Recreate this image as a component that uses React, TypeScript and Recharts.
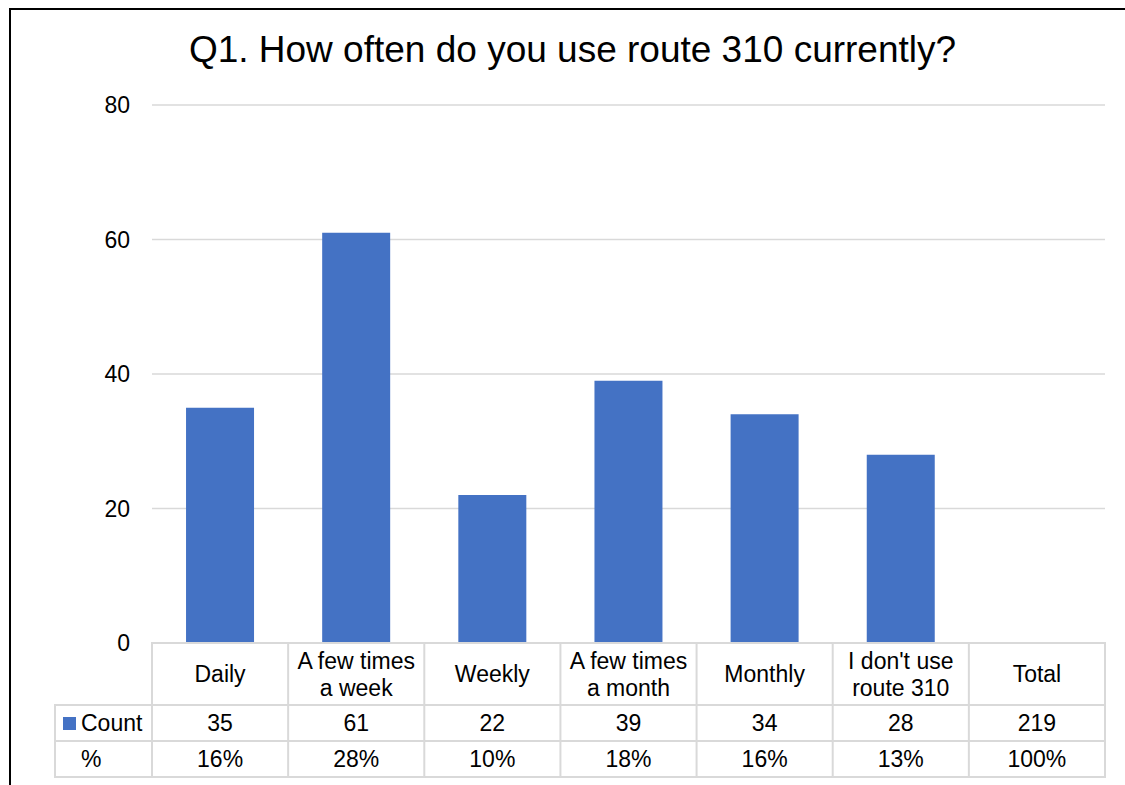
import { BarChart, Bar, XAxis, YAxis, CartesianGrid } from 'recharts';

const CATEGORIES = [
  'Daily',
  'A few times a week',
  'Weekly',
  'A few times a month',
  'Monthly',
  "I don't use route 310",
  'Total',
];
const COUNTS = [35, 61, 22, 39, 34, 28, 219];
const PERCENTS = ['16%', '28%', '10%', '18%', '16%', '13%', '100%'];
const Y_TICKS = [0, 20, 40, 60, 80];

const TITLE = 'Q1. How often do you use route 310 currently?';
const SERIES_NAME = 'Count';

// layout (page pixels)
const W = 1125;
const H = 785;
const PLOT_LEFT = 152;
const PLOT_RIGHT = 1105;
const PLOT_TOP = 105;
const PLOT_BOTTOM = 643;
const ROW_COUNT = 705;
const ROW_PCT = 741;
const ROW_END = 777;
const LEGEND_LEFT = 55;
const CELL_W = (PLOT_RIGHT - PLOT_LEFT) / CATEGORIES.length;

const BLUE = '#4472C4';
const LINE = '#d9d9d9';
const FONT = '"Liberation Sans", Arial, sans-serif';
const FS = 23;

// the Total column gets no bar, only table values
const chartData = CATEGORIES.map((name, i) => ({
  name,
  count: name === 'Total' ? null : COUNTS[i],
}));

function wrap(label: string, max = 11): string[] {
  const out: string[] = [];
  let cur = '';
  for (const w of label.split(' ')) {
    const next = cur ? cur + ' ' + w : w;
    if (next.length > max && cur) {
      out.push(cur);
      cur = w;
    } else {
      cur = next;
    }
  }
  if (cur) out.push(cur);
  return out;
}

const lineProps = { stroke: LINE, strokeWidth: 2, strokeLinecap: 'square' as const };

function TableColumn(props: any) {
  const { x, payload, index } = props;
  const left = x - CELL_W / 2;
  const right = x + CELL_W / 2;
  const lines = wrap(String(payload.value));
  const headMid = (PLOT_BOTTOM + ROW_COUNT) / 2;
  const lh = 27;
  const textProps = {
    fontFamily: FONT,
    fontSize: FS,
    fill: '#000',
    textAnchor: 'middle' as const,
    dominantBaseline: 'central' as const,
  };
  return (
    <g>
      <line x1={left} x2={right} y1={PLOT_BOTTOM} y2={PLOT_BOTTOM} {...lineProps} />
      <line x1={left} x2={right} y1={ROW_COUNT} y2={ROW_COUNT} {...lineProps} />
      <line x1={left} x2={right} y1={ROW_PCT} y2={ROW_PCT} {...lineProps} />
      <line x1={left} x2={right} y1={ROW_END} y2={ROW_END} {...lineProps} />
      <line x1={left} x2={left} y1={PLOT_BOTTOM} y2={ROW_END} {...lineProps} />
      {index === CATEGORIES.length - 1 && (
        <line x1={right} x2={right} y1={PLOT_BOTTOM} y2={ROW_END} {...lineProps} />
      )}
      {index === 0 && (
        <g>
          <line x1={LEGEND_LEFT} x2={left} y1={ROW_COUNT} y2={ROW_COUNT} {...lineProps} />
          <line x1={LEGEND_LEFT} x2={left} y1={ROW_PCT} y2={ROW_PCT} {...lineProps} />
          <line x1={LEGEND_LEFT} x2={left} y1={ROW_END} y2={ROW_END} {...lineProps} />
          <line x1={LEGEND_LEFT} x2={LEGEND_LEFT} y1={ROW_COUNT} y2={ROW_END} {...lineProps} />
          <rect x={63} y={717} width={13} height={13} fill={BLUE} />
          <text {...textProps} x={81} y={(ROW_COUNT + ROW_PCT) / 2} textAnchor="start">
            {SERIES_NAME}
          </text>
          <text {...textProps} x={81} y={(ROW_PCT + ROW_END) / 2} textAnchor="start">
            %
          </text>
        </g>
      )}
      {lines.map((t, i) => (
        <text key={i} {...textProps} x={x} y={headMid + (i - (lines.length - 1) / 2) * lh}>
          {t}
        </text>
      ))}
      <text {...textProps} x={x} y={(ROW_COUNT + ROW_PCT) / 2}>
        {COUNTS[index]}
      </text>
      <text {...textProps} x={x} y={(ROW_PCT + ROW_END) / 2}>
        {PERCENTS[index]}
      </text>
    </g>
  );
}

export default function App() {
  return (
    <div
      style={{
        position: 'fixed',
        left: 0,
        top: 0,
        width: W,
        height: H,
        background: '#fff',
        overflow: 'hidden',
      }}
    >
      {/* outer frame: only top and left edges fall inside the view */}
      <svg
        width={W}
        height={H}
        style={{ position: 'absolute', left: 0, top: 0 }}
      >
        <path d={`M10,${H} V9 H${W}`} fill="none" stroke="#000" strokeWidth={2} />
      </svg>
      <div
        style={{
          position: 'absolute',
          left: 0,
          width: 1145,
          top: 29,
          textAlign: 'center',
          fontFamily: FONT,
          fontSize: 37,
          color: '#000',
          whiteSpace: 'nowrap',
        }}
      >
        {TITLE}
      </div>
      <div style={{ position: 'absolute', left: 0, top: 0 }}>
        <BarChart
          width={W}
          height={H}
          data={chartData}
          margin={{ top: PLOT_TOP, right: W - PLOT_RIGHT, bottom: 0, left: 0 }}
          barCategoryGap="25%"
        >
          <CartesianGrid vertical={false} stroke={LINE} strokeWidth={1.5} />
          <YAxis
            width={PLOT_LEFT}
            domain={[0, 80]}
            ticks={Y_TICKS}
            axisLine={false}
            tickLine={false}
            tickMargin={16}
            tick={{ fontFamily: FONT, fontSize: FS, fill: '#000' }}
          />
          <XAxis
            dataKey="name"
            height={H - PLOT_BOTTOM}
            axisLine={false}
            tickLine={false}
            interval={0}
            tick={<TableColumn />}
          />
          <Bar dataKey="count" name={SERIES_NAME} fill={BLUE} isAnimationActive={false} />
        </BarChart>
      </div>
    </div>
  );
}
